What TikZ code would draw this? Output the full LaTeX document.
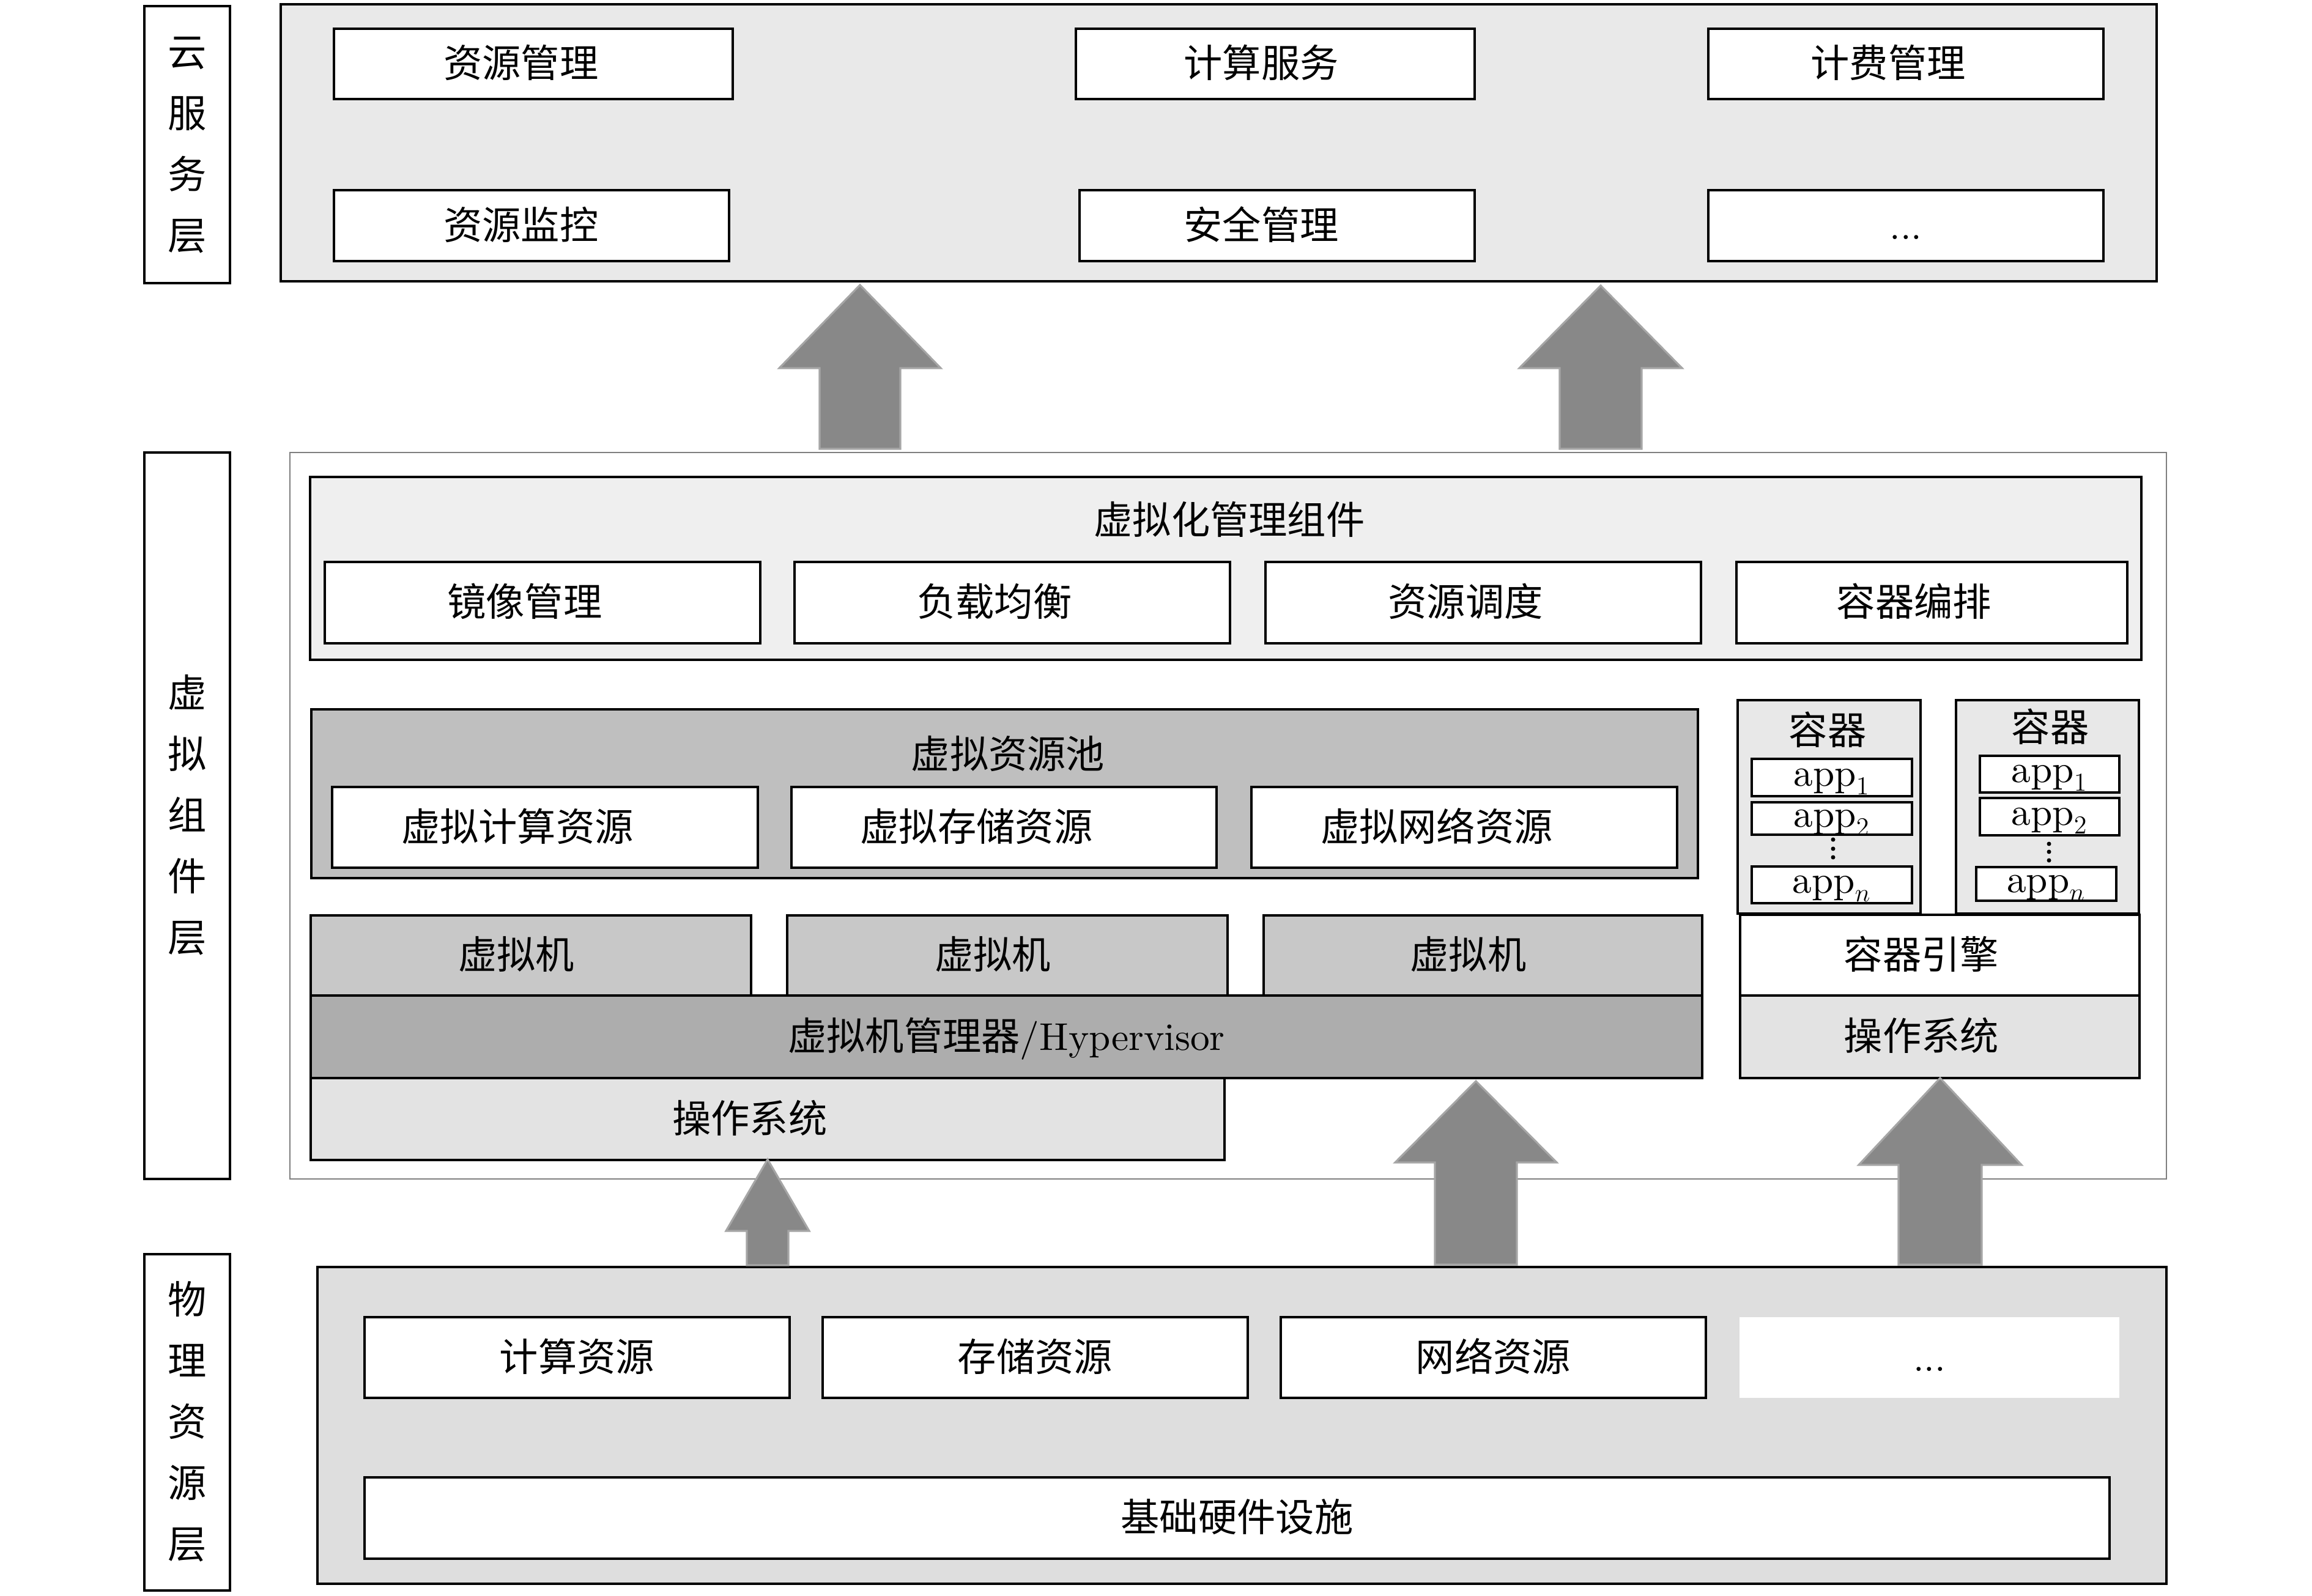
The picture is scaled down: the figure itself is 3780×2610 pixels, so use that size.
\documentclass[tikz,border=0pt]{standalone}
\usepackage{fontspec}
\setmainfont{lmroman10-regular.otf}
\newfontfamily\cjk{Noto Sans CJK SC}
\definecolor{cloudbg}{HTML}{E9E9E9}
\definecolor{mgmtbg}{HTML}{EFEFEF}
\definecolor{poolbg}{HTML}{BFBFBF}
\definecolor{vmbg}{HTML}{C8C8C8}
\definecolor{hypbg}{HTML}{ADADAD}
\definecolor{osbg}{HTML}{E3E3E3}
\definecolor{ctbg}{HTML}{E8E8E8}
\definecolor{physbg}{HTML}{DEDEDE}
\definecolor{arrfill}{HTML}{888888}
\definecolor{arrline}{HTML}{A6A6A6}
\definecolor{outerline}{HTML}{7F7F7F}
\newcommand\fs{\fontsize{18pt}{22pt}\selectfont}
\newcommand\vl[1]{\raisebox{0pt}[14.4pt][1.8pt]{#1}}
% [style] name x1 y1 x2 y2 text   (pixel coordinates, y downwards)
\newcommand\boxnode[7][]{%
  \node[#1, anchor=north west, minimum width={(#5-#3)*0.01cm},
        minimum height={(#6-#4)*0.01cm}] (#2) at (#3,#4) {#7};}
% cx, tip y, head-base y, bottom y, head half width, shaft half width
\newcommand\blockarrow[6]{%
  \filldraw[arrowstyle] ({#1-#6},#4) -- ({#1-#6},#3) -- ({#1-#5},#3) -- (#1,#2)
    -- ({#1+#5},#3) -- ({#1+#6},#3) -- ({#1+#6},#4) -- cycle;}
\begin{document}
\begin{tikzpicture}[x=0.01cm, y=-0.01cm,
  bx/.style={draw=black, line width=1.1pt, inner sep=0pt, outer sep=0pt, font=\fs\cjk,
             text height=14.4pt, text depth=1.8pt},
  wbox/.style={bx, fill=white},
  appbox/.style={bx, fill=white, text height=10.8pt, text depth=3.1pt},
  lbl/.style={draw=black, line width=1.1pt, inner sep=0pt, outer sep=0pt, fill=white, align=center,
              font=\fontsize{18pt}{1cm}\selectfont\cjk},
  ttl/.style={inner sep=0pt, font=\fs\cjk, text height=14.4pt, text depth=1.8pt},
  arrowstyle/.style={fill=arrfill, draw=arrline, line width=0.9pt},
  ]
\useasboundingbox (0,0) rectangle (3780,2610);

% ---------------- cloud service layer ----------------
\boxnode[lbl]{Lcloud}{236}{10}{376}{463}{\vl{云}\\\vl{服}\\\vl{务}\\\vl{层}}
\boxnode[bx, fill=cloudbg]{cloud}{459}{7}{3526}{460}{}
\boxnode[wbox]{s1}{546}{47}{1198}{162}{资源管理\kern0.4cm}
\boxnode[wbox]{s2}{1759}{47}{2411}{162}{计算服务\kern0.46cm}
\boxnode[wbox]{s3}{2793}{47}{3439}{162}{计费管理\kern0.58cm}
\boxnode[wbox]{s4}{546}{311}{1192}{427}{资源监控\kern0.34cm}
\boxnode[wbox]{s5}{1765}{311}{2411}{427}{安全管理\kern0.52cm}
\boxnode[wbox]{s6}{2793}{311}{3439}{427}{\rmfamily ...}

% ---------------- virtualization layer ----------------
\boxnode[lbl]{Lvirt}{236}{740}{376}{1928}{\vl{虚}\\\vl{拟}\\\vl{组}\\\vl{件}\\\vl{层}}
\boxnode[draw=outerline, line width=0.8pt, fill=white, inner sep=0pt, outer sep=0pt]{virt}{474}{740}{3542}{1928}{}

\boxnode[bx, fill=mgmtbg]{mgmt}{507}{780}{3501}{1079}{}
\node[ttl] (mgmtT) at (2010,851) {虚拟化管理组件};
\boxnode[wbox]{m1}{531}{919}{1243}{1052}{镜像管理\kern0.58cm}
\boxnode[wbox]{m2}{1299}{919}{2011}{1052}{负载均衡\kern0.58cm}
\boxnode[wbox]{m3}{2069}{919}{2781}{1052}{资源调度\kern0.58cm}
\boxnode[wbox]{m4}{2839}{919}{3478}{1052}{容器编排\kern0.58cm}

\boxnode[bx, fill=poolbg]{pool}{509}{1160}{2776}{1436}{}
\node[ttl] (poolT) at (1648,1234) {虚拟资源池};
\boxnode[wbox]{p1}{543}{1287}{1239}{1419}{虚拟计算资源\kern0.9cm}
\boxnode[wbox]{p2}{1294}{1287}{1989}{1419}{虚拟存储资源\kern0.9cm}
\boxnode[wbox]{p3}{2046}{1287}{2742}{1419}{虚拟网络资源\kern0.9cm}

\boxnode[bx, fill=vmbg]{vm1}{508}{1497}{1228}{1628}{虚拟机\kern0.48cm}
\boxnode[bx, fill=vmbg]{vm2}{1287}{1497}{2007}{1628}{虚拟机\kern0.48cm}
\boxnode[bx, fill=vmbg]{vm3}{2066}{1497}{2783}{1628}{虚拟机\kern0.48cm}
\boxnode[bx, fill=hypbg]{hyp}{508}{1628}{2783}{1763}{虚拟机管理器{\rmfamily /Hypervisor}}
\boxnode[bx, fill=osbg]{os1}{508}{1763}{2002}{1897}{操作系统\kern0.58cm}

% containers
\boxnode[bx, fill=ctbg]{ct1}{2841}{1145}{3140}{1494}{}
\node[ttl] (ct1T) at (2988,1195) {容器};
\boxnode[appbox]{a11}{2864}{1241}{3126}{1302}{$\mathrm{app}_1$}
\boxnode[appbox]{a12}{2864}{1312}{3126}{1365}{$\mathrm{app}_2$}
\boxnode[appbox]{a1n}{2864}{1417}{3126}{1477}{$\mathrm{app}_n$}
\fill (2997,1373) circle[radius=0.035cm] (2997,1388) circle[radius=0.035cm] (2997,1402) circle[radius=0.035cm];

\boxnode[bx, fill=ctbg]{ct2}{3198}{1145}{3497}{1494}{}
\node[ttl] (ct2T) at (3352,1190) {容器};
\boxnode[appbox]{a21}{3237}{1236}{3465}{1296}{$\mathrm{app}_1$}
\boxnode[appbox]{a22}{3237}{1305}{3465}{1366}{$\mathrm{app}_2$}
\boxnode[appbox]{a2n}{3231}{1418}{3460}{1473}{$\mathrm{app}_n$}
\fill (3350,1380) circle[radius=0.035cm] (3350,1393) circle[radius=0.035cm] (3350,1407) circle[radius=0.035cm];

\boxnode[bx, fill=white]{engine}{2845}{1496}{3498}{1628}{容器引擎\kern0.6cm}
\boxnode[bx, fill=osbg]{os2}{2845}{1628}{3498}{1763}{操作系统\kern0.6cm}

% ---------------- physical layer ----------------
\boxnode[lbl]{Lphys}{236}{2051}{376}{2601}{\vl{物}\\\vl{理}\\\vl{资}\\\vl{源}\\\vl{层}}
\boxnode[bx, fill=physbg]{phys}{519}{2072}{3542}{2590}{}
\boxnode[wbox]{r1}{596}{2154}{1291}{2286}{计算资源}
\boxnode[wbox]{r2}{1345}{2154}{2040}{2286}{存储资源}
\boxnode[wbox]{r3}{2094}{2154}{2789}{2286}{网络资源}
\boxnode[fill=white, inner sep=0pt, outer sep=0pt, font=\fs, text height=14.4pt, text depth=1.8pt]{r4}{2844}{2154}{3465}{2286}{...}
\boxnode[wbox]{hw}{596}{2416}{3449}{2549}{基础硬件设施}

% ---------------- block arrows ----------------
\blockarrow{1406}{466}{602}{734}{132}{66}
\blockarrow{2617}{467}{602}{734}{133}{67}
\blockarrow{1255}{1896}{2013}{2069}{68}{34}
\blockarrow{2413}{1768}{1901}{2068}{132}{67}
\blockarrow{3172}{1763}{1905}{2068}{133}{68}
\end{tikzpicture}
\end{document}
